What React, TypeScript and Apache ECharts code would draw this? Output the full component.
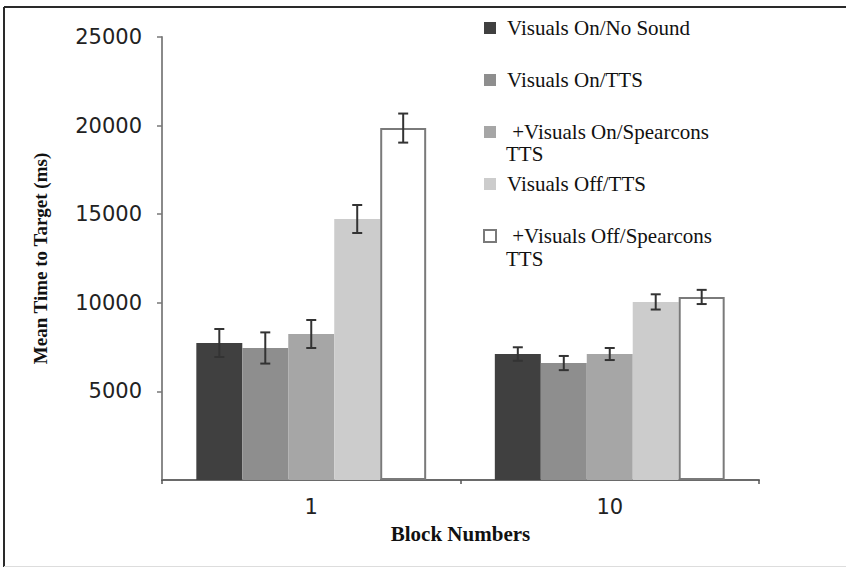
import React, { useEffect, useRef } from "react";
import * as echarts from "echarts";

const categories = ["1", "10"];
const seriesNames = [
  "Visuals On/No Sound",
  "Visuals On/TTS",
  "+Visuals On/Spearcons TTS",
  "Visuals Off/TTS",
  "+Visuals Off/Spearcons TTS",
];
const visualsOnNoSound = [7730, 7110];
const visualsOnTTS = [7450, 6600];
const visualsOnSpearcons = [8240, 7110];
const visualsOffTTS = [14730, 10050];
const visualsOffSpearcons = [19860, 10330];

const errNoSound = [790, 380];
const errOnTTS = [880, 400];
const errOnSpearcons = [790, 340];
const errOffTTS = [790, 430];
const errOffSpearcons = [820, 400];

const yTicks = { min: 0, max: 25000, interval: 5000 };

const values = [visualsOnNoSound, visualsOnTTS, visualsOnSpearcons, visualsOffTTS, visualsOffSpearcons];
const errors = [errNoSound, errOnTTS, errOnSpearcons, errOffTTS, errOffSpearcons];
const colors = ["#404040", "#8e8e8e", "#a6a6a6", "#cccccc", "#ffffff"];

const BAR_FRACTION = 0.77;

export default function App() {
  const ref = useRef<HTMLDivElement>(null);
  useEffect(() => {
    if (!ref.current) return;
    const chart = echarts.init(ref.current, null, { renderer: "svg" });
    const barSeries = seriesNames.map((name, k) => ({
      name,
      type: "bar",
      data: values[k],
      barGap: "0%",
      barCategoryGap: `${Math.round((1 - BAR_FRACTION) * 100)}%`,
      itemStyle:
        k === 4
          ? { color: colors[k], borderColor: "#7a7a7a", borderWidth: 2 }
          : { color: colors[k] },
    }));
    const errSeries = seriesNames.map((name, k) => ({
      name: "err" + k,
      type: "custom",
      z: 10,
      data: categories.map((_, ci) => [ci, values[k][ci], errors[k][ci]]),
      encode: { x: 0, y: 1 },
      renderItem: (params: any, api: any) => {
        const ci = api.value(0);
        const v = api.value(1);
        const e = api.value(2);
        const center = api.coord([ci, v]);
        const catW = api.size([1, 0])[0];
        const bw = (catW * BAR_FRACTION) / 5;
        const x = center[0] + (k - 2) * bw;
        const top = api.coord([ci, v + e])[1];
        const bot = api.coord([ci, v - e])[1];
        const style = { stroke: "#333333", lineWidth: 2 };
        const cap = 5;
        return {
          type: "group",
          children: [
            { type: "line", shape: { x1: x, y1: top, x2: x, y2: bot }, style },
            { type: "line", shape: { x1: x - cap, y1: top, x2: x + cap, y2: top }, style },
            { type: "line", shape: { x1: x - cap, y1: bot, x2: x + cap, y2: bot }, style },
          ],
        };
      },
    }));

    const legendTop = 17.5;
    const itemStep = 51;
    const iconCenter = (i: number) => legendTop + 10 + i * itemStep;

    chart.setOption({
      animation: false,
      backgroundColor: "#ffffff",
      grid: { left: 162, right: 87, top: 37, bottom: 88 },
      legend: {
        data: seriesNames,
        orient: "vertical",
        left: 483,
        top: legendTop,
        padding: 0,
        itemWidth: 12,
        itemHeight: 12,
        itemGap: itemStep - 20,
        icon: "rect",
        selectedMode: false,
        formatter: (name: string) =>
          name.startsWith("+") ? " " + name.replace(/ TTS$/, "") : name,
        textStyle: {
          fontFamily: "Liberation Serif",
          fontSize: 21,
          lineHeight: 20,
          color: "#111111",
          padding: [0, 0, 0, 6],
        },
      },
      xAxis: {
        type: "category",
        data: categories,
        name: "Block Numbers",
        nameLocation: "middle",
        nameGap: 43,
        nameTextStyle: {
          fontFamily: "Liberation Serif",
          fontWeight: "bold",
          fontSize: 21,
          color: "#111111",
        },
        axisLine: { lineStyle: { color: "#6a6a6a", width: 2 } },
        axisTick: { show: true, alignWithLabel: false, length: 4, lineStyle: { color: "#555555", width: 1.5 } },
        axisLabel: {
          margin: 16,
          fontFamily: "DejaVu Sans",
          fontSize: 21,
          color: "#222222",
        },
      },
      yAxis: {
        type: "value",
        min: yTicks.min,
        max: yTicks.max,
        interval: yTicks.interval,
        name: "Mean Time to Target (ms)",
        nameLocation: "middle",
        nameGap: 112,
        nameRotate: 90,
        nameTextStyle: {
          fontFamily: "Liberation Serif",
          fontWeight: "bold",
          fontSize: 19,
          color: "#111111",
        },
        splitLine: { show: false },
        axisLine: { show: true, lineStyle: { color: "#8a8a8a", width: 2 } },
        axisTick: { show: true, length: 5, lineStyle: { color: "#777777", width: 1.5 } },
        axisLabel: {
          showMinLabel: false,
          margin: 20,
          fontFamily: "DejaVu Sans",
          fontSize: 21,
          color: "#222222",
          formatter: (v: number) => String(v),
        },
      },
      graphic: [
        { type: "line", shape: { x1: 4, y1: 7, x2: 846, y2: 7 }, style: { stroke: "#2a2a2a", lineWidth: 2 } },
        { type: "line", shape: { x1: 4, y1: 7, x2: 4, y2: 567 }, style: { stroke: "#2a2a2a", lineWidth: 2 } },
        { type: "line", shape: { x1: 4, y1: 566.5, x2: 846, y2: 566.5 }, style: { stroke: "#dddddd", lineWidth: 1 } },
        {
          type: "text",
          left: 506,
          top: iconCenter(2) + 14,
          style: { text: "TTS", font: "21px 'Liberation Serif'", fill: "#111111" },
        },
        {
          type: "text",
          left: 506,
          top: iconCenter(4) + 17,
          style: { text: "TTS", font: "21px 'Liberation Serif'", fill: "#111111" },
        },
      ],
      series: [...barSeries, ...errSeries],
    });
    return () => chart.dispose();
  }, []);
  return (
    <div
      ref={ref}
      style={{ position: "fixed", left: 0, top: 0, width: 846, height: 568 }}
    />
  );
}
